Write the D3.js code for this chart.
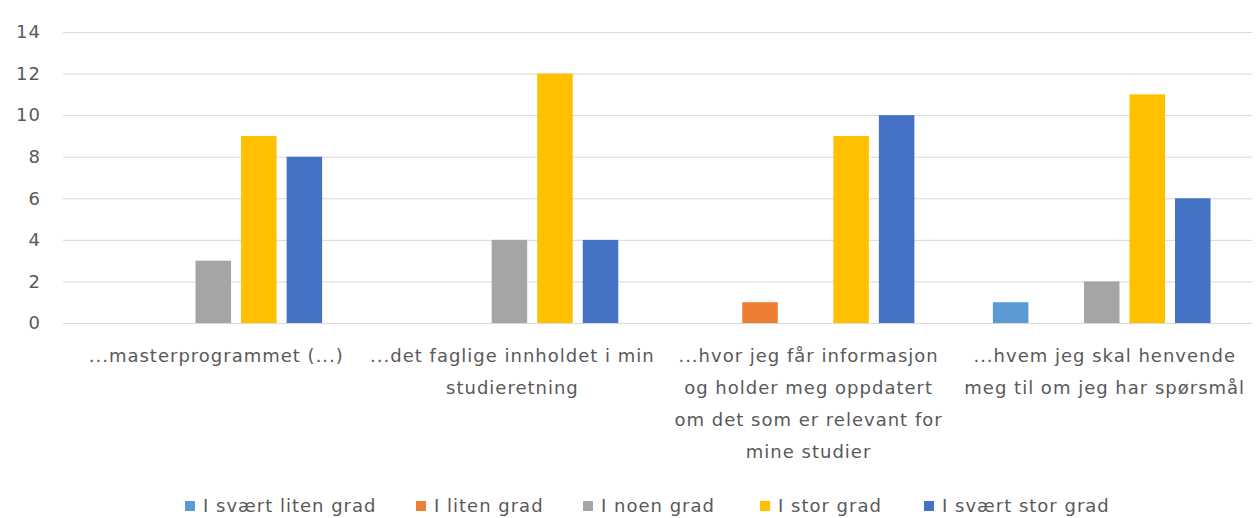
<!DOCTYPE html>
<html lang="no">
<head>
<meta charset="UTF-8">
<title>Chart</title>
<script src="https://d3js.org/d3.v7.min.js"></script>
<style>
  body { margin: 0; background: #fff; }
  text { font-family: "DejaVu Sans", sans-serif; fill: #595959; }
</style>
</head>
<body>
<div id="chart"></div>
<script>
const categories = [
  ["...masterprogrammet (...)"],
  ["...det faglige innholdet i min", "studieretning"],
  ["...hvor jeg får informasjon", "og holder meg oppdatert", "om det som er relevant for", "mine studier"],
  ["...hvem jeg skal henvende", "meg til om jeg har spørsmål"]
];
const series = ["I svært liten grad", "I liten grad", "I noen grad", "I stor grad", "I svært stor grad"];
const colors = ["#5B9BD5", "#ED7D31", "#A5A5A5", "#FFC000", "#4472C4"];
const values = [
  [0, 0, 3, 9, 8],
  [0, 0, 4, 12, 4],
  [0, 1, 0, 9, 10],
  [1, 0, 2, 11, 6]
];
const yTicks = [0, 2, 4, 6, 8, 10, 12, 14];

const w = 1260, h = 518;
const plotLeft = 63, plotRight = 1252, plotTop = 32, plotBottom = 323;
const fontSize = 18;

const svg = d3.select("#chart").append("svg")
  .attr("width", w).attr("height", h);

const x0 = d3.scaleBand()
  .domain(d3.range(categories.length))
  .range([plotLeft, plotRight])
  .paddingInner(0.265)
  .paddingOuter(0.14);

const x1 = d3.scaleBand()
  .domain(d3.range(series.length))
  .range([0, x0.bandwidth()])
  .paddingInner(0.22);

const y = d3.scaleLinear().domain([0, 14]).range([plotBottom, plotTop]);

// gridlines
svg.append("g").selectAll("line")
  .data(yTicks)
  .join("line")
  .attr("x1", plotLeft).attr("x2", plotRight)
  .attr("y1", d => y(d) + 0.5).attr("y2", d => y(d) + 0.5)
  .attr("stroke", "#D9D9D9").attr("stroke-width", 1);

// y axis labels
const yAxis = d3.axisLeft(y).tickValues(yTicks).tickSize(0).tickPadding(0);
const gy = svg.append("g").attr("transform", "translate(41,0)").call(yAxis);
gy.select(".domain").remove();
gy.selectAll("text")
  .attr("font-size", fontSize)
  .attr("letter-spacing", 1)
  .style("font-family", "'DejaVu Sans', sans-serif")
  .attr("fill", "#595959");

// bars
const groups = svg.append("g").selectAll("g")
  .data(values)
  .join("g")
  .attr("transform", (d, i) => `translate(${x0(i)},0)`);

groups.selectAll("rect")
  .data(d => d)
  .join("rect")
  .attr("x", (d, j) => x1(j))
  .attr("width", x1.bandwidth())
  .attr("y", d => y(d))
  .attr("height", d => plotBottom - y(d))
  .attr("fill", (d, j) => colors[j]);

// category labels
const catG = svg.append("g").selectAll("text")
  .data(categories)
  .join("text")
  .attr("text-anchor", "middle")
  .attr("font-size", fontSize)
  .attr("letter-spacing", 1);
catG.each(function(lines, i) {
  d3.select(this).selectAll("tspan")
    .data(lines)
    .join("tspan")
    .attr("x", x0(i) + x0.bandwidth() / 2 + 3)
    .attr("y", (d, k) => 362 + k * 32)
    .text(d => d);
});

// legend
const legendX = [185, 416, 583, 760, 924];
const leg = svg.append("g").selectAll("g")
  .data(series)
  .join("g")
  .attr("transform", (d, i) => `translate(${legendX[i]},501)`);
leg.append("rect")
  .attr("width", 10).attr("height", 10)
  .attr("fill", (d, i) => colors[i]);
leg.append("text")
  .attr("x", 18).attr("y", 11)
  .attr("font-size", fontSize)
  .attr("letter-spacing", 1)
  .text(d => d);
</script>
</body>
</html>
